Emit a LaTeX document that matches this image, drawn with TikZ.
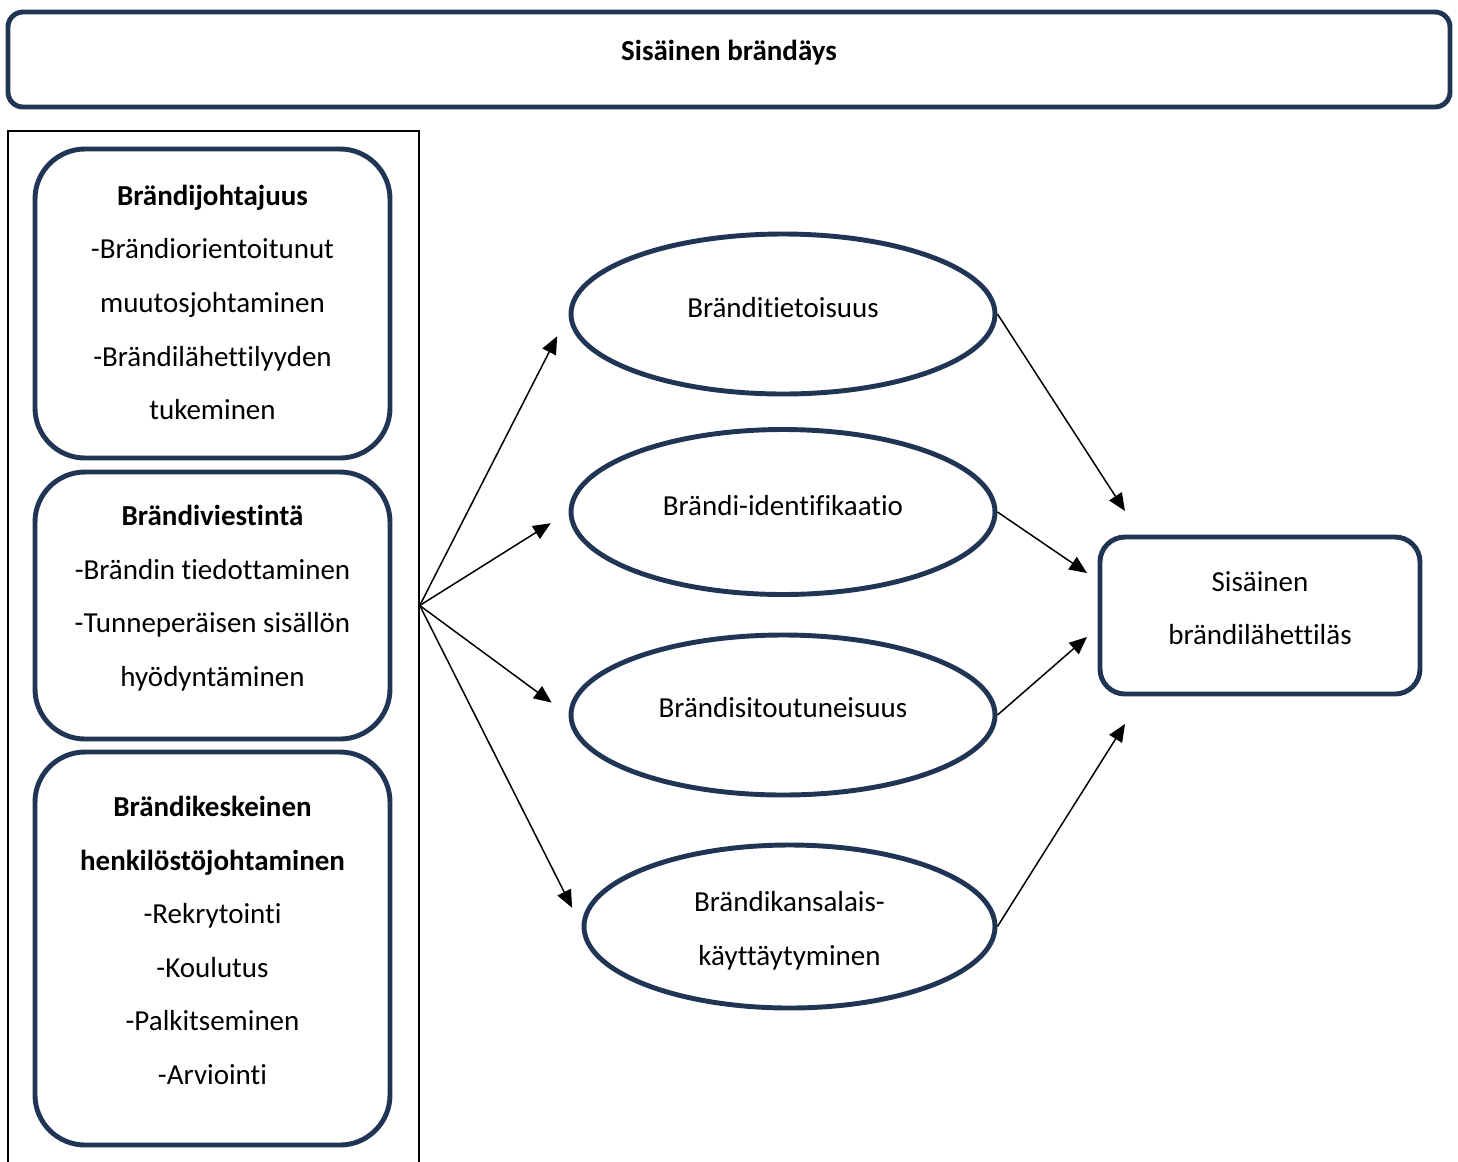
\documentclass[tikz,border=0pt]{standalone}
\usepackage{fontspec}
\setmainfont{Carlito}[Ligatures=CommonOff]
\usepackage{tikz}
\usetikzlibrary{shapes.geometric,arrows.meta}
\definecolor{boxblue}{HTML}{1F3553}

\begin{document}
\begin{tikzpicture}[x=0.02cm, y=-0.02cm]
				\tikzset{
					txt/.style = {font=\fontsize{16.5}{30.5}\selectfont, align=center, inner sep=0pt},
					rbox/.style = {draw=boxblue, line width=2.8pt, rounded corners=1cm, inner sep=0pt},
					oval/.style = {ellipse, draw=boxblue, line width=2.8pt, inner sep=0pt},
					arr/.style = {-{Triangle[length=10pt,width=8.5pt]}, line width=0.85pt}
				}
				\newcommand\px{0.02cm}
				\clip (0,0) rectangle (1458,1161);
				% otsikko
				\node[rbox, rounded corners=0.3cm, minimum width=1442*\px, minimum height=95*\px] (top) at (729,59.5) {};
				\node[txt] (toptxt) at (729,53) {\textbf{Sisäinen brändäys}};
				% vasen kehys ja laatikot
				\node[draw, line width=0.85pt, minimum width=411*\px, minimum height=1060*\px, inner sep=0pt] (frame) at (213.5,661) {};
				\node[rbox, minimum width=355*\px, minimum height=309*\px] (b1) at (212.5,303.5) {};
				\node[rbox, minimum width=355*\px, minimum height=267*\px] (b2) at (212.5,605.5) {};
				\node[rbox, minimum width=355*\px, minimum height=393*\px] (b3) at (212.5,948.5) {};
				\node[txt] (b1txt) at (212.5,302.5)
					{\textbf{Brändijohtajuus}\\-Brändiorientoitunut\\muutosjohtaminen\\-Brändilähettilyyden\\tukeminen};
				\node[txt] (b2txt) at (212.5,598)
					{\textbf{Brändiviestintä}\\-Brändin tiedottaminen\\-Tunneperäisen sisällön\\hyödyntäminen};
				\node[txt] (b3txt) at (212.5,940.5)
					{\textbf{Brändikeskeinen}\\\textbf{henkilöstöjohtaminen}\\-Rekrytointi\\-Koulutus\\-Palkitseminen\\-Arviointi};
				\coordinate (hub) at (frame.east |- b2);
				% ellipsit
				\foreach \n/\x/\y/\w/\h/\ty/\t in {e1/783/314/424/160/308/Bränditietoisuus,
					e2/783/512/424/165/506/Brändi-identifikaatio,
					e3/783/715/424/160/708/Brändisitoutuneisuus,
					e4/789.5/926.5/411/163/931/{Brändikansalais-\\käyttäytyminen}}{
					\node[oval, minimum width=\w*\px, minimum height=\h*\px] (\n) at (\x,\y) {};
					\node[txt] (\n txt) at (\x,\ty) {\t};
				}
				% lopputulos
				\node[rbox, rounded corners=0.5cm, minimum width=320*\px, minimum height=157*\px] (out) at (1260,615.5) {};
				\node[txt] (outtxt) at (1260,608) {Sisäinen\\brändilähettiläs};
				\coordinate (t1) at (1125,511);
				\coordinate (t2) at (1087,573);
				\coordinate (t3) at (1087,637);
				\coordinate (t4) at (1125,724);
				% nuolet
				\foreach \n/\s in {e1/0.5cm, e2/0.42cm, e3/0.42cm, e4/0.42cm}{
					\draw[arr, shorten >=\s] (hub) -- (\n.west);
				}
				\foreach \n/\t in {e1/t1, e2/t2, e3/t3, e4/t4}{
					\draw[arr] (\n.east) -- (\t);
				}
			\end{tikzpicture}
\end{document}
